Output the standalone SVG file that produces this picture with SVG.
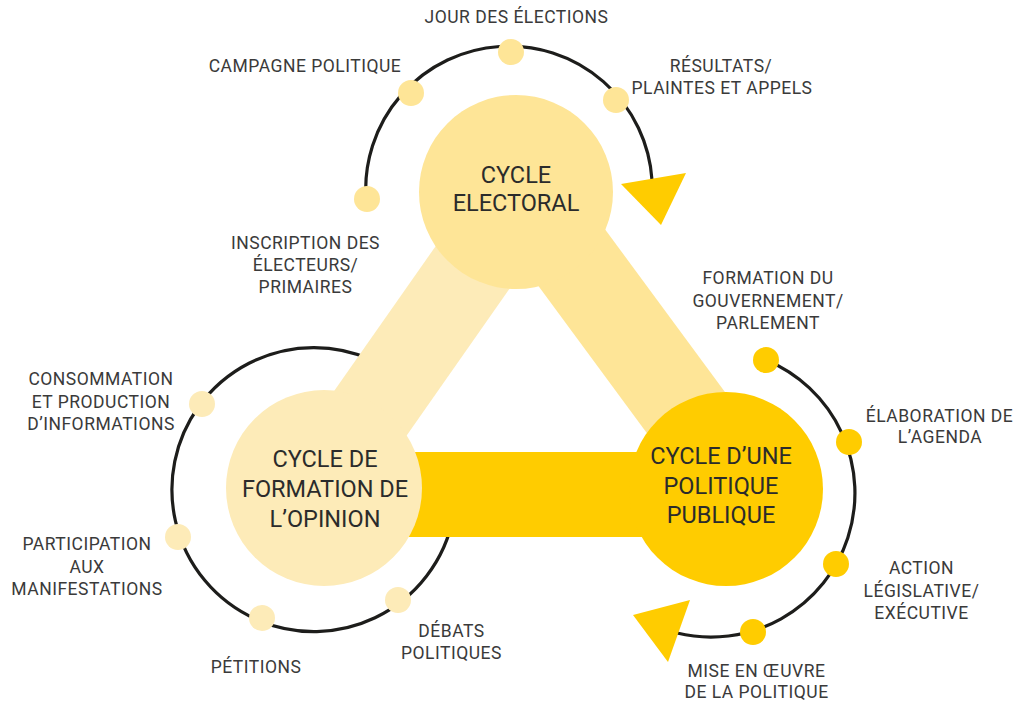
<svg xmlns="http://www.w3.org/2000/svg" width="1025" height="703" viewBox="0 0 1025 703">
<style>
.ring{fill:none;stroke:#1d1d1b;stroke-width:3.2}
.lbl{font-family:Roboto,"Liberation Sans",sans-serif;font-size:17.5px;letter-spacing:0.5px;fill:#3a3a3a;text-anchor:middle}
.ttl{font-family:Roboto,"Liberation Sans",sans-serif;font-size:23.5px;fill:#2b2b2b;text-anchor:middle}
.pale{fill:#FDEBB8}
.light{fill:#FEE597}
.gold{fill:#FFCC00}
</style>
<rect width="1025" height="703" fill="#ffffff"/>
<g id="connectors">
  <path class="ring" d="M 366 199 A 143 143 0 0 1 652 180"/>
  <path class="ring" d="M 451.8 455.6 A 142 142 0 1 1 372 360"/>
  <path class="ring" d="M 766 360 A 144 144 0 0 1 677 633"/>
  <polygon class="pale" points="468,200 571.7,200 375.5,480 271.7,480"/>
  <polygon class="light" points="464,185 572.4,185 789.7,480 681.4,480"/>
  <rect class="gold" x="330" y="452" width="390" height="85"/>
  <polygon class="gold" points="621,184 686,173 661,225"/>
  <polygon class="gold" points="633,615 690,600 668,662"/>
</g>
<g id="cycle-electoral">
  <circle class="light" cx="516" cy="192" r="97"/>
  <text class="ttl" x="516" y="183">CYCLE</text>
  <text class="ttl" x="516" y="210.5">ELECTORAL</text>
</g>
<g id="cycle-opinion">
  <circle class="pale" cx="324" cy="488" r="98"/>
  <text class="ttl" x="325" y="467">CYCLE DE</text>
  <text class="ttl" x="325" y="497">FORMATION DE</text>
  <text class="ttl" x="325" y="526.5">L’OPINION</text>
</g>
<g id="cycle-politique">
  <circle class="gold" cx="726" cy="489" r="97"/>
  <text class="ttl" x="721" y="464">CYCLE D’UNE</text>
  <text class="ttl" x="721" y="493.5">POLITIQUE</text>
  <text class="ttl" x="721" y="522.5">PUBLIQUE</text>
</g>
<g id="jour-des-elections">
  <circle class="light" cx="511" cy="52" r="13"/>
  <text class="lbl" x="516.5" y="23">JOUR DES ÉLECTIONS</text>
</g>
<g id="campagne-politique">
  <circle class="light" cx="411" cy="93" r="13"/>
  <text class="lbl" x="305" y="72">CAMPAGNE POLITIQUE</text>
</g>
<g id="resultats">
  <circle class="light" cx="616" cy="100" r="13"/>
  <text class="lbl" x="721" y="72">RÉSULTATS/</text>
  <text class="lbl" x="722" y="94">PLAINTES ET APPELS</text>
</g>
<g id="inscription">
  <circle class="light" cx="367" cy="199" r="13"/>
  <text class="lbl" x="305.5" y="249">INSCRIPTION DES</text>
  <text class="lbl" x="305.5" y="271">ÉLECTEURS/</text>
  <text class="lbl" x="305.5" y="293">PRIMAIRES</text>
</g>
<g id="consommation">
  <circle class="pale" cx="202" cy="404" r="13"/>
  <text class="lbl" x="101" y="385">CONSOMMATION</text>
  <text class="lbl" x="101" y="407.5">ET PRODUCTION</text>
  <text class="lbl" x="101" y="430">D’INFORMATIONS</text>
</g>
<g id="participation">
  <circle class="pale" cx="178" cy="537" r="13"/>
  <text class="lbl" x="87" y="550">PARTICIPATION</text>
  <text class="lbl" x="87" y="573">AUX</text>
  <text class="lbl" x="87" y="595">MANIFESTATIONS</text>
</g>
<g id="petitions">
  <circle class="pale" cx="262" cy="618" r="13"/>
  <text class="lbl" x="256" y="672.5">PÉTITIONS</text>
</g>
<g id="debats">
  <circle class="pale" cx="398" cy="600" r="13"/>
  <text class="lbl" x="451.5" y="636.5">DÉBATS</text>
  <text class="lbl" x="451.5" y="659">POLITIQUES</text>
</g>
<g id="formation-gouvernement">
  <circle class="gold" cx="766" cy="360" r="13"/>
  <text class="lbl" x="768" y="284">FORMATION DU</text>
  <text class="lbl" x="768" y="306.5">GOUVERNEMENT/</text>
  <text class="lbl" x="768" y="329">PARLEMENT</text>
</g>
<g id="agenda">
  <circle class="gold" cx="849" cy="442" r="13"/>
  <text class="lbl" x="939.5" y="421.5">ÉLABORATION DE</text>
  <text class="lbl" x="940" y="443">L’AGENDA</text>
</g>
<g id="action">
  <circle class="gold" cx="836" cy="564" r="13"/>
  <text class="lbl" x="921.5" y="574">ACTION</text>
  <text class="lbl" x="921.5" y="596.5">LÉGISLATIVE/</text>
  <text class="lbl" x="921.5" y="618.5">EXÉCUTIVE</text>
</g>
<g id="mise-en-oeuvre">
  <circle class="gold" cx="753" cy="632" r="13"/>
  <text class="lbl" x="756.5" y="676.5">MISE EN ŒUVRE</text>
  <text class="lbl" x="756.5" y="698">DE LA POLITIQUE</text>
</g>
</svg>
